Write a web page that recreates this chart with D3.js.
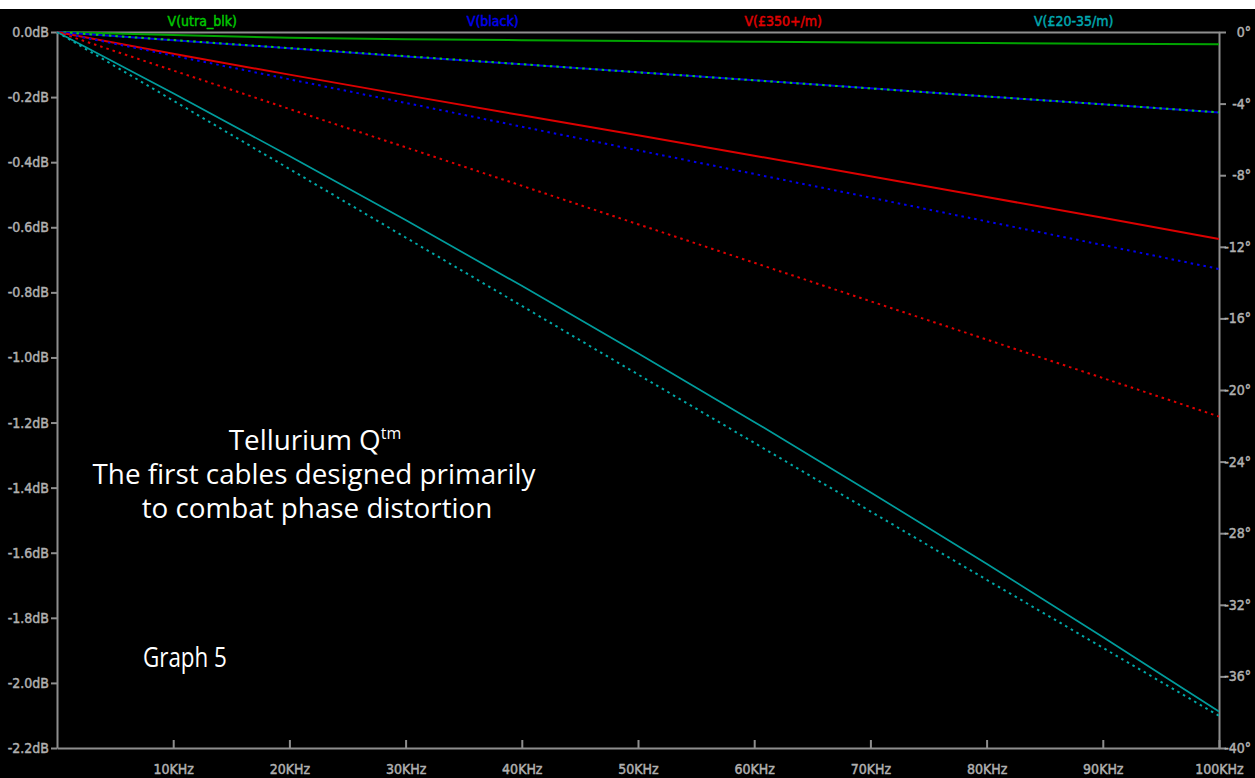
<!DOCTYPE html>
<html>
<head>
<meta charset="utf-8">
<script src="https://cdn.jsdelivr.net/npm/d3@7"></script>
<style>
  body { margin: 0; background: #fff; }
  .axis text { font-family: "DejaVu Sans Condensed", "DejaVu Sans", sans-serif; font-size: 14px; fill: #b0b0b0; stroke: #b0b0b0; stroke-width: 0.45; }
  .axis path, .axis line { stroke: #8e8e8e; stroke-width: 2; }
  .legend { font-family: "DejaVu Sans Condensed", "DejaVu Sans", sans-serif; font-size: 14px; text-anchor: middle; stroke-width: 0.45; }
  .note { font-family: "Open Sans", sans-serif; font-size: 27.8px; fill: #fff; text-anchor: middle; }
</style>
</head>
<body>
<div id="plot"></div>
<script>
// --- Data (frequency in kHz) ---
const freqKHz = [0, 10, 20, 30, 40, 50, 60, 70, 80, 90, 100];

// magnitude (dB, left axis) and phase (degrees, right axis) per cable
const ultraBlkDb  = [0, -0.009, -0.018, -0.022, -0.025, -0.028, -0.030, -0.032, -0.034, -0.036, -0.038];
const ultraBlkDeg = [0, -0.45, -0.90, -1.35, -1.80, -2.25, -2.70, -3.15, -3.60, -4.04, -4.49];
const blackDb     = [0, -0.025, -0.050, -0.075, -0.099, -0.124, -0.148, -0.173, -0.198, -0.222, -0.247];
const blackDeg    = [0, -1.32, -2.64, -3.96, -5.29, -6.61, -7.93, -9.25, -10.58, -11.90, -13.24];
const gbp350Db    = [0, -0.067, -0.131, -0.194, -0.256, -0.317, -0.380, -0.443, -0.507, -0.571, -0.636];
const gbp350Deg   = [0, -2.15, -4.30, -6.44, -8.59, -10.74, -12.89, -15.04, -17.18, -19.33, -21.48];
const gbp20Db     = [0, -0.188, -0.381, -0.578, -0.780, -0.987, -1.198, -1.414, -1.634, -1.859, -2.088];
const gbp20Deg    = [0, -3.83, -7.65, -11.48, -15.30, -19.13, -22.95, -26.78, -30.60, -34.40, -38.20];

const traceNames = ["V(utra_blk)", "V(black)", "V(\u00a3350+/m)", "V(\u00a320-35/m)"];
const dbTicks = [0, -0.2, -0.4, -0.6, -0.8, -1.0, -1.2, -1.4, -1.6, -1.8, -2.0, -2.2];
const degTicks = [0, -4, -8, -12, -16, -20, -24, -28, -32, -36, -40];
const freqTicks = [10, 20, 30, 40, 50, 60, 70, 80, 90, 100];

const traceColors = ["#00a400", "#0000e6", "#dc0000", "#009c9c"];
const dotColors   = ["#10d010", "#0000f0", "#e00000", "#00a8a8"];
const labelColors = ["#00c800", "#0000f0", "#e00000", "#00a8b0"];

// --- Layout ---
const W = 1255, H = 778;
const plotL = 57, plotR = 1219, plotT = 32, plotB = 748;

const svg = d3.select("#plot").append("svg")
  .attr("width", W)
  .attr("height", H);

svg.append("rect")
  .attr("x", 0).attr("y", 9)
  .attr("width", W).attr("height", H - 9)
  .attr("fill", "#000");

// --- Scales ---
const x = d3.scaleLinear().domain([0, 100]).range([plotL, plotR]);
const yDb = d3.scaleLinear().domain([-2.2, 0]).range([plotB, plotT]);
const yDeg = d3.scaleLinear().domain([-40, 0]).range([plotB, plotT]);

// --- Axes ---
svg.append("g")
  .attr("class", "axis")
  .attr("transform", `translate(${plotL},0)`)
  .call(d3.axisLeft(yDb).tickValues(dbTicks).tickSize(6).tickSizeOuter(0).tickPadding(2)
    .tickFormat(d => (Math.abs(d) < 1e-9 ? "0.0" : d.toFixed(1)) + "dB"));

// degree labels are right-aligned near the window edge
svg.append("g")
  .attr("class", "axis")
  .attr("transform", `translate(${plotR},0)`)
  .call(d3.axisRight(yDeg).tickValues(degTicks).tickSize(7).tickSizeOuter(0).tickPadding(3)
    .tickFormat(d => d + "\u00b0"))
  .selectAll("text")
  .attr("text-anchor", "end")
  .attr("x", 32);

svg.append("g")
  .attr("class", "axis")
  .attr("transform", `translate(0,${plotB})`)
  .call(d3.axisBottom(x).tickValues(freqTicks).tickSizeInner(-8).tickSizeOuter(0).tickPadding(16)
    .tickFormat(d => d + "KHz"));

// top border
svg.append("g")
  .attr("class", "axis")
  .attr("transform", `translate(0,${plotT})`)
  .call(d3.axisTop(x).tickValues([]).tickSizeOuter(0));

// --- Legend across the top ---
const slot = (plotR - plotL) / traceNames.length;
svg.selectAll(".legend")
  .data(traceNames)
  .enter()
  .append("text")
  .attr("class", "legend")
  .attr("x", (d, i) => plotL + slot * (i + 0.5))
  .attr("y", 26)
  .attr("fill", (d, i) => labelColors[i])
  .attr("stroke", (d, i) => labelColors[i])
  .text(d => d);

// --- Traces: magnitudes solid, phases dotted ---
const dbSeries = [ultraBlkDb, blackDb, gbp350Db, gbp20Db];
const degSeries = [ultraBlkDeg, blackDeg, gbp350Deg, gbp20Deg];

const dbLine = d3.line().x((d, i) => x(freqKHz[i])).y(d => yDb(d));
const degLine = d3.line().x((d, i) => x(freqKHz[i])).y(d => yDeg(d));

svg.append("g").selectAll("path")
  .data(dbSeries)
  .enter()
  .append("path")
  .attr("d", dbLine)
  .attr("fill", "none")
  .attr("stroke", (d, i) => traceColors[i])
  .attr("stroke-width", (d, i) => i === 3 ? 1.7 : 2);

svg.append("g").selectAll("path")
  .data(degSeries)
  .enter()
  .append("path")
  .attr("d", degLine)
  .attr("fill", "none")
  .attr("stroke", (d, i) => dotColors[i])
  .attr("stroke-width", 2)
  .attr("stroke-dasharray", "2.5,4");

// --- Annotations ---
const note = svg.append("text").attr("class", "note");
const line1 = note.append("tspan").attr("x", 315).attr("y", 450);
line1.append("tspan").text("Tellurium Q");
line1.append("tspan").attr("dy", -11).attr("font-size", 16).text("tm");
note.append("tspan").attr("x", 314).attr("y", 484).text("The first cables designed primarily");
note.append("tspan").attr("x", 317).attr("y", 518).text("to combat phase distortion");

// narrower face for the graph number
svg.append("text")
  .attr("transform", "translate(143,667) scale(0.8,1)")
  .attr("font-family", "'Open Sans', sans-serif")
  .attr("font-size", 28)
  .attr("fill", "#fff")
  .text("Graph 5");
</script>
</body>
</html>
